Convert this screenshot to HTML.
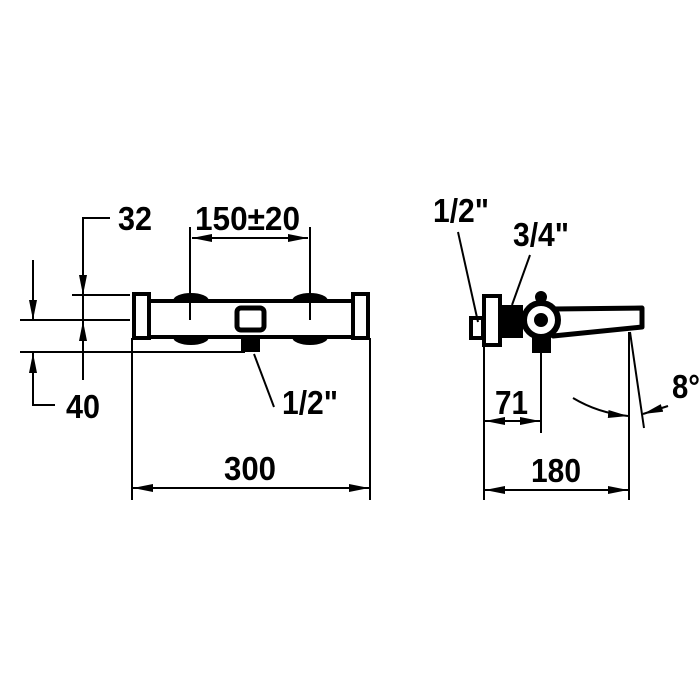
<!DOCTYPE html>
<html><head><style>body{margin:0;background:#fff}svg{display:block}text{font-family:"Liberation Sans",sans-serif;font-weight:bold;font-size:33px;fill:#000}</style></head><body>
<svg width="700" height="700" viewBox="0 0 700 700" xmlns="http://www.w3.org/2000/svg">
<defs><marker id="a" viewBox="0 0 20 8" refX="20" refY="4" markerWidth="20" markerHeight="8" markerUnits="userSpaceOnUse" orient="auto-start-reverse"><path d="M0,0L20,4L0,8z"/></marker></defs>
<g stroke="#000" fill="none" stroke-width="2">
<ellipse cx="191" cy="301" rx="17" ry="7" fill="#000"/><ellipse cx="310" cy="301" rx="17" ry="7" fill="#000"/>
<ellipse cx="191" cy="337" rx="17" ry="7" fill="#000"/><ellipse cx="310" cy="337" rx="17" ry="7" fill="#000"/>
<rect x="148" y="301" width="205" height="36" fill="#fff" stroke-width="4"/>
<rect x="134" y="294" width="15" height="44" fill="#fff" stroke-width="4"/>
<rect x="353" y="294" width="15" height="44" fill="#fff" stroke-width="4"/>
<rect x="237" y="308" width="27" height="22" rx="4" fill="#fff" stroke-width="5"/>
<rect x="242" y="338" width="17" height="13" fill="#000"/>
<line x1="190" y1="227" x2="190" y2="320"/><line x1="310" y1="227" x2="310" y2="320"/>
<line x1="192" y1="238" x2="308" y2="238" marker-start="url(#a)" marker-end="url(#a)"/>
<line x1="72" y1="295" x2="130" y2="295"/><line x1="20" y1="320" x2="130" y2="320"/><line x1="20" y1="352" x2="245" y2="352"/>
<polyline points="110,218 83,218 83,380"/>
<line x1="83" y1="260" x2="83" y2="295" marker-end="url(#a)"/><line x1="83" y1="350" x2="83" y2="321" marker-end="url(#a)"/>
<line x1="33" y1="260" x2="33" y2="320" marker-end="url(#a)"/>
<polyline points="55,405 33,405 33,352"/><line x1="33" y1="390" x2="33" y2="353" marker-end="url(#a)"/>
<line x1="132" y1="338" x2="132" y2="500"/><line x1="370" y1="338" x2="370" y2="500"/>
<line x1="133" y1="488" x2="369" y2="488" marker-start="url(#a)" marker-end="url(#a)"/>
<line x1="254" y1="354" x2="274" y2="407"/>
<rect x="471" y="318" width="12" height="20" stroke-width="4" fill="#fff"/>
<rect x="484" y="296" width="16" height="49" stroke-width="4" fill="#fff"/>
<rect x="500" y="306" width="22" height="31" fill="#000"/>
<circle cx="541" cy="297" r="5" fill="#000"/>
<rect x="533" y="335" width="17" height="17" fill="#000"/>
<path d="M553,309 L642,308 L642,327 L553,336z" fill="#fff" stroke-width="5" stroke-linejoin="round"/>
<circle cx="541" cy="320" r="17" fill="#fff" stroke-width="6"/>
<circle cx="541" cy="320" r="6" fill="#000"/>
<line x1="458" y1="232" x2="478" y2="322"/><line x1="530" y1="255" x2="512" y2="305"/>
<line x1="484" y1="345" x2="484" y2="500"/><line x1="541" y1="352" x2="541" y2="433"/>
<line x1="485" y1="421" x2="540" y2="421" marker-start="url(#a)" marker-end="url(#a)"/>
<line x1="629" y1="332" x2="629" y2="500"/>
<line x1="485" y1="490" x2="628" y2="490" marker-start="url(#a)" marker-end="url(#a)"/>
<line x1="630" y1="332" x2="644" y2="428"/>
<path d="M573,398 Q598,413 628,416" marker-end="url(#a)"/>
<line x1="668" y1="406" x2="643" y2="414" marker-end="url(#a)"/>
</g>
<text x="118" y="230" textLength="34" lengthAdjust="spacingAndGlyphs">32</text>
<text x="195" y="230" textLength="105" lengthAdjust="spacingAndGlyphs">150±20</text>
<text x="66" y="418" textLength="34" lengthAdjust="spacingAndGlyphs">40</text>
<text x="282" y="414" textLength="56" lengthAdjust="spacingAndGlyphs">1/2"</text>
<text x="224" y="480" textLength="52" lengthAdjust="spacingAndGlyphs">300</text>
<text x="433" y="222" textLength="56" lengthAdjust="spacingAndGlyphs">1/2"</text>
<text x="513" y="246" textLength="56" lengthAdjust="spacingAndGlyphs">3/4"</text>
<text x="495" y="414" textLength="33" lengthAdjust="spacingAndGlyphs">71</text>
<text x="531" y="482" textLength="50" lengthAdjust="spacingAndGlyphs">180</text>
<text x="672" y="398" textLength="28" lengthAdjust="spacingAndGlyphs">8°</text>
</svg>
</body></html>
